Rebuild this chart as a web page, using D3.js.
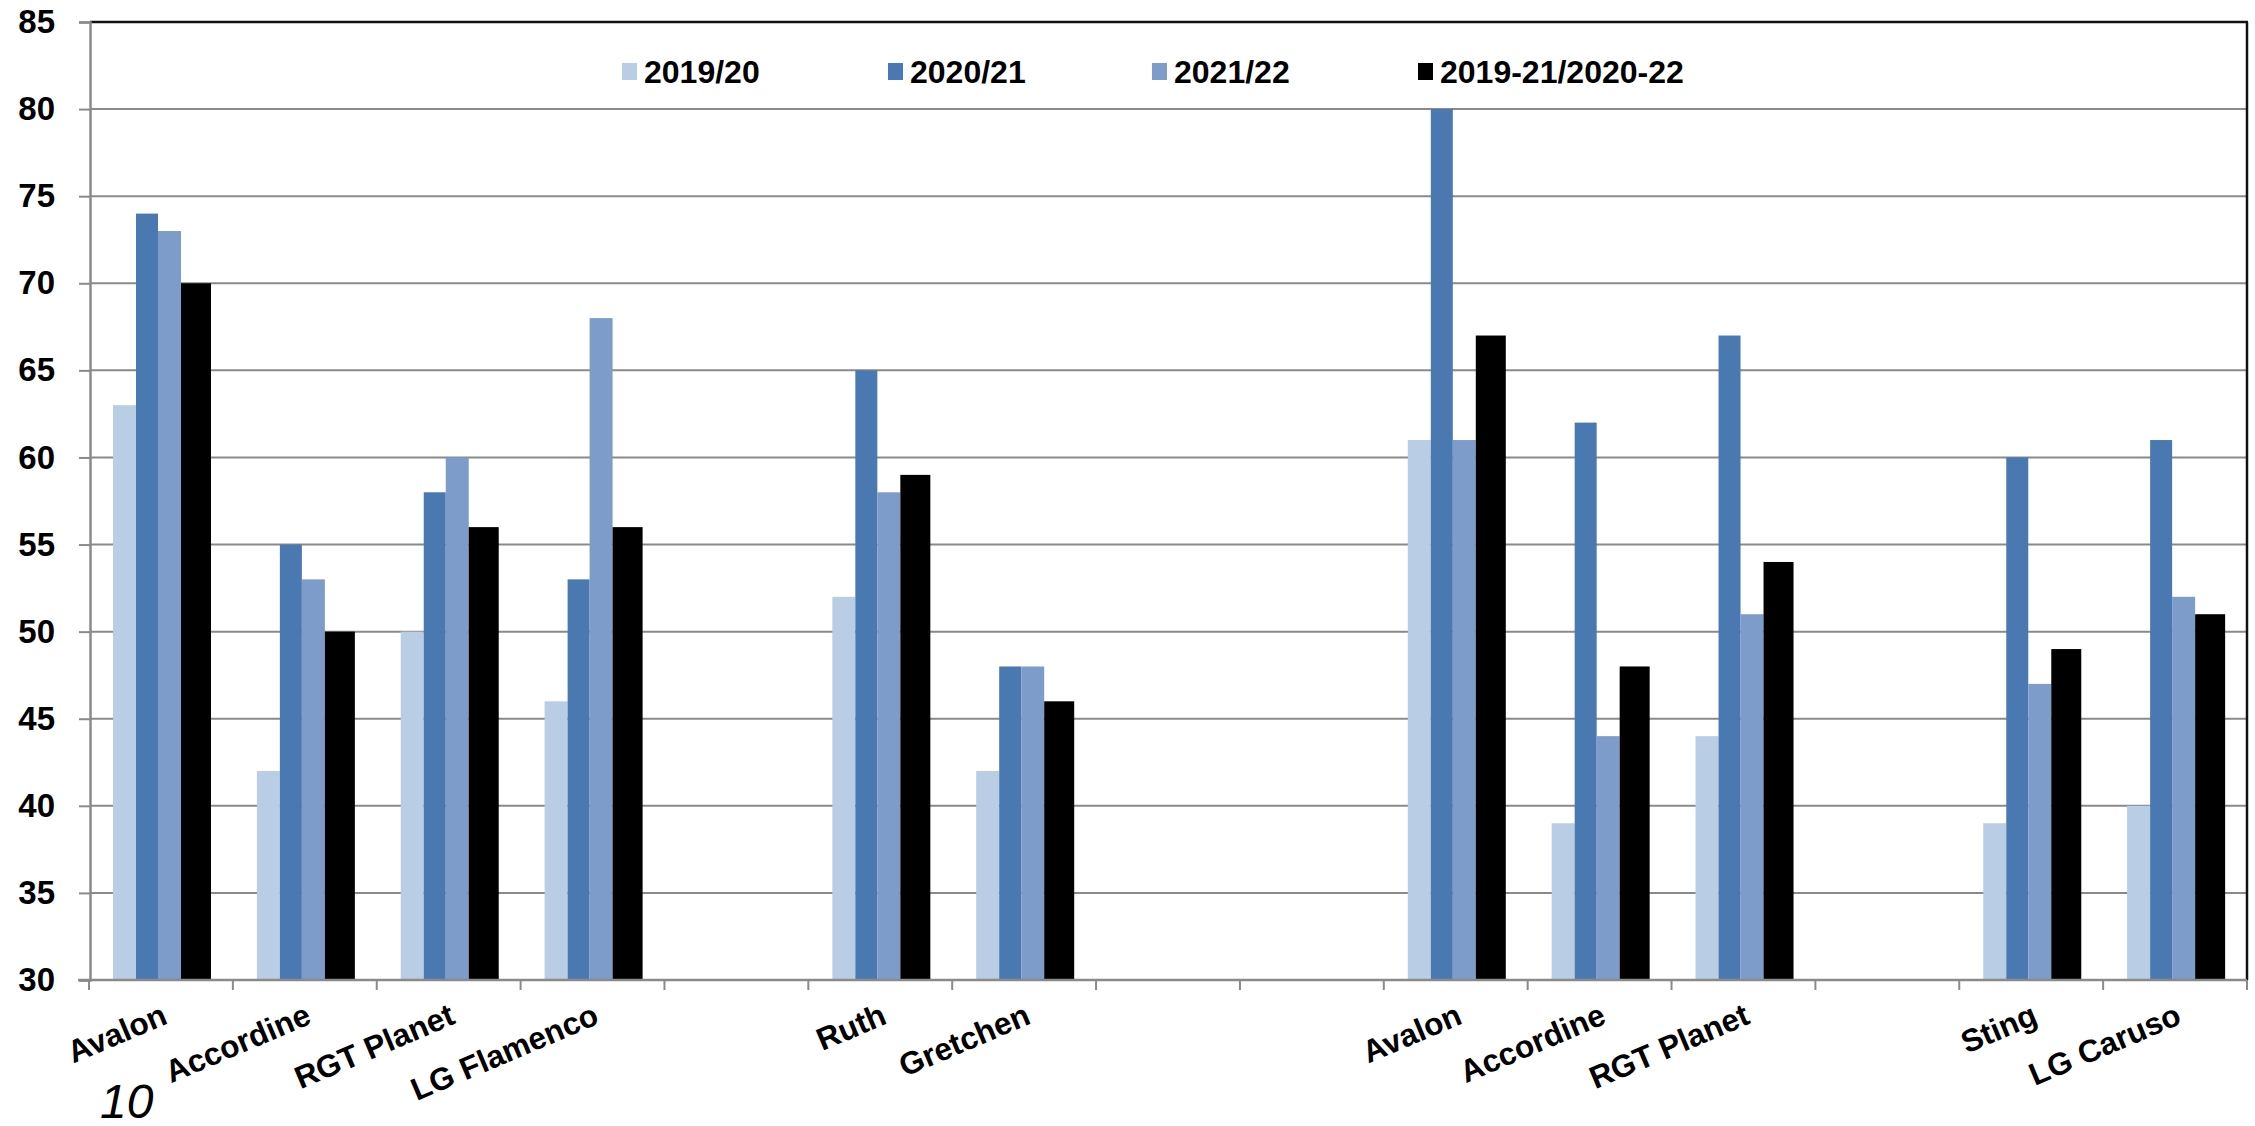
<!DOCTYPE html>
<html><head><meta charset="utf-8">
<script src="https://cdn.jsdelivr.net/npm/d3@7"></script>
<style>body{margin:0;background:#fff}svg{display:block}text{font-family:"Liberation Sans",Arial,sans-serif}</style>
</head><body><svg id="c" width="2255" height="1126"></svg>
<script>
const categories = ["Avalon","Accordine","RGT Planet","LG Flamenco","","Ruth","Gretchen","","","Avalon","Accordine","RGT Planet","","Sting","LG Caruso"];
const seriesNames = ["2019/20","2020/21","2021/22","2019-21/2020-22"];
const s2019_20 = [63,42,50,46,null,52,42,null,null,61,39,44,null,39,40];
const s2020_21 = [74,55,58,53,null,65,48,null,null,80,62,67,null,60,61];
const s2021_22 = [73,53,60,68,null,58,48,null,null,61,44,51,null,47,52];
const sMean    = [70,50,56,56,null,59,46,null,null,67,48,54,null,49,51];
const yTicks = [30,35,40,45,50,55,60,65,70,75,80,85];
const footnote = "10";

const series = [s2019_20, s2020_21, s2021_22, sMean];
const colors = ["#B9CDE5","#4A78B0","#7E9CC9","#000000"];
const barW = [23,22,23,30];
const barStart = 24;

const svg = d3.select("#c");
const L = 90, R = 2247, T = 22, B = 980;
const x = d3.scaleBand().domain(categories.map((d,i)=>i)).range([L-1, R]).padding(0);
const y = d3.scaleLinear().domain([30,85]).range([B, T]);

// gridlines
svg.append("g").selectAll("line").data(yTicks.filter(t=>t>30 && t<85)).join("line")
  .attr("x1", L).attr("x2", R).attr("y1", d=>y(d)).attr("y2", d=>y(d))
  .attr("stroke", "#8a8a8a").attr("stroke-width", 2);
// top & right border
svg.append("line").attr("x1",L).attr("x2",R+1).attr("y1",y(85)).attr("y2",y(85)).attr("stroke","#111").attr("stroke-width",2.5);
svg.append("line").attr("x1",R).attr("x2",R).attr("y1",y(85)).attr("y2",B).attr("stroke","#111").attr("stroke-width",2.5);

// bars
const offs = []; let acc = barStart; barW.forEach(w=>{offs.push(acc); acc+=w;});
series.forEach((vals, si) => {
  svg.append("g").selectAll("rect").data(vals.map((v,i)=>({v,i})).filter(d=>d.v!=null)).join("rect")
    .attr("x", d => x(d.i) + offs[si])
    .attr("width", barW[si])
    .attr("y", d => y(d.v))
    .attr("height", d => y(30) - y(d.v))
    .attr("fill", colors[si]);
});

// y axis
const yAxis = d3.axisLeft(y).tickValues(yTicks).tickSize(11).tickPadding(24);
const gy = svg.append("g").attr("transform", `translate(${L},0)`).call(yAxis);
gy.select(".domain").attr("stroke","#8a8a8a").attr("stroke-width",2.5);
gy.selectAll(".tick line").attr("stroke","#8a8a8a").attr("stroke-width",2);
gy.selectAll(".tick text").attr("font-size",33).attr("font-weight","bold").attr("fill","#000")
  .attr("font-family",'"Liberation Sans",Arial,sans-serif');

// x axis
const xEdges = d3.range(categories.length+1).map(i => i < categories.length ? x(i) : R);
svg.append("line").attr("x1",L-12).attr("x2",R).attr("y1",B).attr("y2",B).attr("stroke","#8a8a8a").attr("stroke-width",2.5);
svg.append("g").selectAll("line").data(xEdges).join("line")
  .attr("x1",d=>d).attr("x2",d=>d).attr("y1",B).attr("y2",B+10).attr("stroke","#8a8a8a").attr("stroke-width",2);
svg.append("g").selectAll("text").data(categories.map((c,i)=>({c,i})).filter(d=>d.c)).join("text")
  .attr("transform", d => `translate(${x(d.i)+x.bandwidth()/2+8},${B+43}) rotate(-23)`)
  .attr("text-anchor","end")
  .attr("font-size",31.5).attr("font-weight","bold").text(d=>d.c);

// legend
const legX = [622, 888, 1152, 1418];
const lg = svg.append("g");
seriesNames.forEach((n,i)=>{
  lg.append("rect").attr("x",legX[i]).attr("y",63).attr("width",15).attr("height",17).attr("fill",colors[i]);
  lg.append("text").attr("x",legX[i]+22).attr("y",83).attr("font-size",32).attr("font-weight","bold").text(n);
});

// footnote
svg.append("text").attr("x",100).attr("y",1118).attr("font-size",48).attr("font-style","italic").text(footnote);
</script></body></html>
